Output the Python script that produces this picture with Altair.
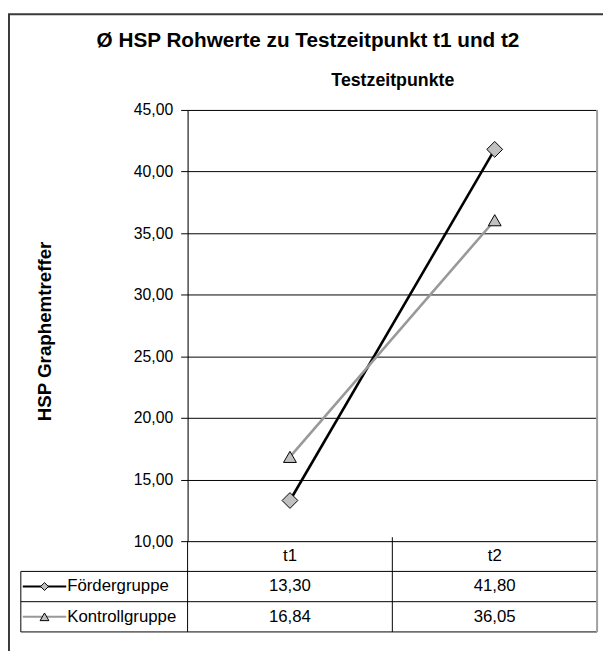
import altair as alt
import pandas as pd

# ---- data ----
times = ["t1", "t2"]
groups = ["Fördergruppe", "Kontrollgruppe"]
foerder = [13.30, 41.80]
kontroll = [16.84, 36.05]
y_ticks = [10, 15, 20, 25, 30, 35, 40, 45]
title_text = "Ø HSP Rohwerte zu Testzeitpunkt t1 und t2"

rows = []
for g, vals in zip(groups, [foerder, kontroll]):
    for t, v in zip(times, vals):
        rows.append({"group": g, "t": t, "value": v})
df = pd.DataFrame(rows)
header_df = pd.DataFrame({"t": times, "row": ["header"] * len(times)})
legend_df = pd.DataFrame({"group": groups})
one = pd.DataFrame({"a": [0]})
title_df = pd.DataFrame({"title": [title_text]})

FONT = "Liberation Sans"
W, H = 415, 437
ROW_TOP, ROW_BOTTOM = 437, 529
LEFT_TABLE = -169

xscale = alt.Scale(type="point", domain=times, range=[0, W], padding=0.5)
yscale = alt.Scale(domain=[10, 45], nice=False, zero=False)
rowscale = alt.Scale(type="band", domain=["header"] + groups,
                     range=[ROW_TOP, ROW_BOTTOM], paddingInner=0, paddingOuter=0)
color_scale = alt.Scale(domain=groups, range=["#000000", "#999999"])

de_fmt = "replace(format(datum.value, '.2f'), '.', ',')"

xaxis = alt.Axis(orient="top", labels=False, ticks=False, domain=False, grid=False,
                 title="Testzeitpunkte", titleFont=FONT, titleFontSize=18,
                 titleFontWeight="bold", titleColor="#000", titleX=W / 2, titleY=-25,
                 titleBaseline="alphabetic", titleAlign="center")

yaxis = alt.Axis(values=y_ticks, labelExpr=de_fmt, grid=True, gridColor="#000",
                 gridWidth=1, gridOpacity=1, domainColor="#000", domainWidth=1,
                 tickColor="#000", tickSize=7, tickWidth=1, labelPadding=8,
                 labelFont=FONT, labelFontSize=16, labelColor="#000", labelFlush=False,
                 title="HSP Graphemtreffer", titleFont=FONT, titleFontSize=19,
                 titleFontWeight="bold", titleColor="#000", titleX=-145, titleY=224,
                 titleAngle=270, titleAlign="center", titleBaseline="middle")

X = alt.X("t:N", scale=xscale, axis=xaxis)

lines = alt.Chart(df).mark_line(strokeWidth=2.6).encode(
    x=X,
    y=alt.Y("value:Q", scale=yscale, axis=yaxis),
    color=alt.Color("group:N", scale=color_scale, legend=None),
)

def pts(group, shape, size):
    return alt.Chart(df).transform_filter(alt.datum.group == group).mark_point(
        shape=shape, size=size, filled=True, fill="#c0c0c0", stroke="#000",
        strokeWidth=1, opacity=1
    ).encode(x=X, y=alt.Y("value:Q", scale=yscale, axis=None))

p1 = pts(groups[0], "diamond", 256)
p2 = pts(groups[1], "triangle-up", 170)

# ---- data table under the plot ----
header_text = alt.Chart(header_df).mark_text(font=FONT, fontSize=17, color="#000").encode(
    x=X, y=alt.Y("row:N", scale=rowscale, axis=None), text="t:N")

cells = alt.Chart(df).transform_calculate(
    label="replace(format(datum.value, '.2f'), '.', ',')"
).mark_text(font=FONT, fontSize=17, color="#000").encode(
    x=X, y=alt.Y("group:N", scale=rowscale, axis=None), text="label:N")

leg_text = alt.Chart(legend_df).mark_text(font=FONT, fontSize=17, color="#000",
                                           align="left").encode(
    x=alt.value(-122), y=alt.Y("group:N", scale=rowscale, axis=None), text="group:N")

leg_line = alt.Chart(legend_df).mark_rule(strokeWidth=2).encode(
    x=alt.value(-167), x2=alt.value(-123),
    y=alt.Y("group:N", scale=rowscale, axis=None),
    color=alt.Color("group:N", scale=color_scale, legend=None))

def leg_pt(group, shape, size):
    return alt.Chart(legend_df).transform_filter(alt.datum.group == group).mark_point(
        shape=shape, size=size, filled=True, fill="#c0c0c0", stroke="#000",
        strokeWidth=1, opacity=1
    ).encode(x=alt.value(-145), y=alt.Y("group:N", scale=rowscale, axis=None))

lp1 = leg_pt(groups[0], "diamond", 64)
lp2 = leg_pt(groups[1], "triangle-up", 80)

def hline(yv, x1=LEFT_TABLE, x2=W):
    return alt.Chart(one).mark_rule(color="#000", strokeWidth=1).encode(
        x=alt.value(x1), x2=alt.value(x2), y=alt.value(yv))

def vline(xv, y1, y2, color="#000", width=1):
    return alt.Chart(one).mark_rule(color=color, strokeWidth=width).encode(
        x=alt.value(xv), y=alt.value(y1), y2=alt.value(y2))

row_h = (ROW_BOTTOM - ROW_TOP) / 3
table_lines = [
    hline(ROW_TOP + row_h),
    hline(ROW_TOP + 2 * row_h),
    hline(ROW_BOTTOM),
    vline(LEFT_TABLE, ROW_TOP + row_h, ROW_BOTTOM),
    vline(0, ROW_TOP, ROW_BOTTOM),
    vline(W / 2, ROW_TOP - 4, ROW_BOTTOM),
    vline(W, 0, ROW_BOTTOM, color="#a0a0a0", width=2),
]

border = alt.Chart(one).mark_rect(fillOpacity=0, stroke="#3a3a3a", strokeWidth=2).encode(
    x=alt.value(-181), y=alt.value(-97), x2=alt.value(W + 40), y2=alt.value(H + 200))

title = alt.Chart(title_df).mark_text(font=FONT, fontSize=21, fontWeight="bold",
                                      color="#000", align="center",
                                      baseline="alphabetic").encode(
    x=alt.value(122), y=alt.value(-64), text="title:N")

chart = alt.layer(
    border, *table_lines, lines, p1, p2, header_text, cells, leg_line, lp1, lp2,
    leg_text, title
).resolve_scale(y="independent").properties(
    width=W, height=H,
    autosize=alt.AutoSizeParams(type="none"),
    padding={"left": 182, "top": 99, "right": 6, "bottom": 107},
).configure_view(stroke=None).configure(background="white")

chart.save("out.html", embed_options={"renderer": "svg", "actions": False})
